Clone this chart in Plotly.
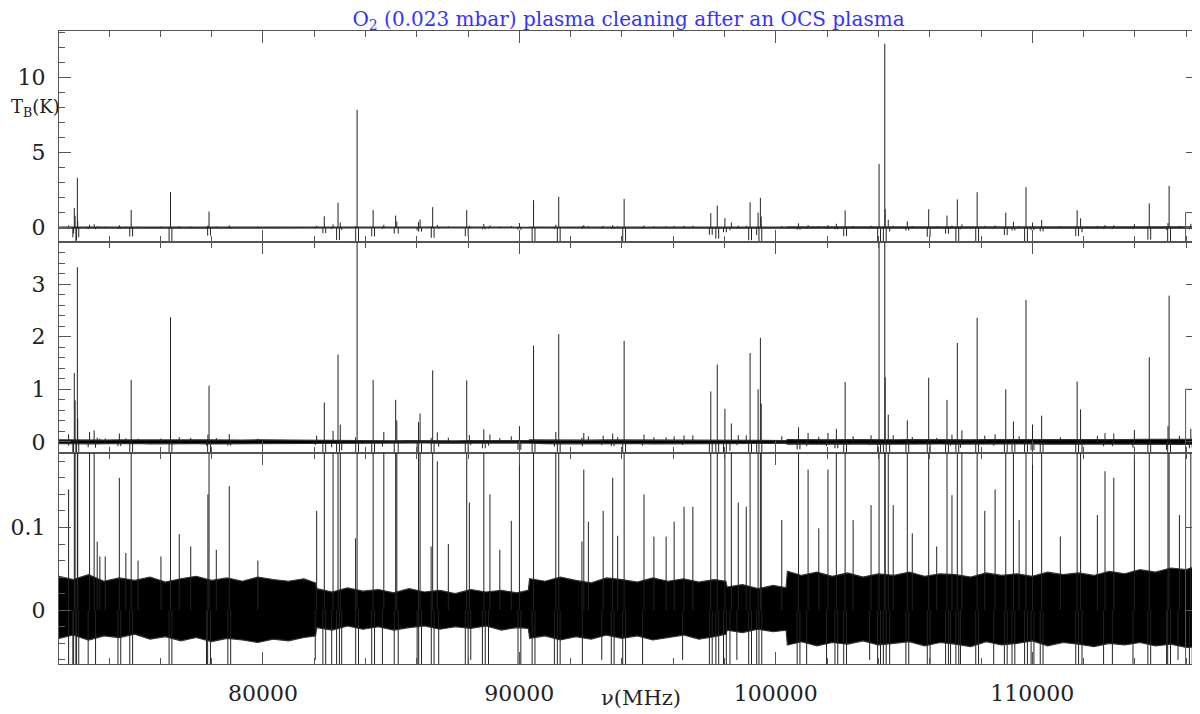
import plotly.graph_objects as go
from plotly.subplots import make_subplots

# emission lines: frequency (MHz) and peak T_B (K)
line_freq = [72424, 72647, 72677, 72766, 72780, 73242, 73420, 73540, 73644, 73852,
             74403, 74656, 74864, 75132, 76025, 76397, 76739, 77186, 77856, 77900,
             78183, 78688, 79804, 82096, 82394, 82736, 82929, 83018, 83614, 83673,
             84298, 84715, 85176, 85221, 86069, 86129, 86560, 86620, 86800, 87230,
             87947, 88050, 88614, 88852, 89238, 89685, 90002, 90553, 91420, 91535,
             92438, 92512, 92691, 93267, 93639, 93832, 94085, 94859, 95246, 95722,
             96034, 96421, 96764, 97463, 97716, 98014, 98266, 98535, 98847, 98996,
             99308, 99397, 99430, 100231, 100885, 101257, 101674, 102032, 102359, 102701,
             103013, 103713, 104025, 104248, 104263, 104383, 104576, 105126, 105320, 105959,
             106272, 106674, 106867, 107075, 107254, 107849, 108147, 108549, 108965, 109263,
             109486, 109754, 110007, 110364, 111093, 111748, 111882, 112536, 112834, 113177,
             113980, 114560, 115290, 115333, 115736, 116180]
line_peak = [0.146, 1.31, 0.79, 3.32, 0.45, 0.19, 0.22, 0.083, 0.065, 0.065,
             0.16, 0.069, 1.18, 0.060, 0.065, 2.37, 0.092, 0.077, 0.14, 1.07,
             0.073, 0.15, 0.060, 0.12, 0.75, 0.21, 1.66, 0.33, 0.087, 7.85,
             1.18, 0.19, 0.80, 0.41, 0.38, 0.54, 0.077, 1.36, 0.18, 0.080,
             1.17, 0.13, 0.24, 0.14, 0.073, 0.108, 0.30, 1.83, 0.19, 2.05,
             0.083, 0.17, 0.107, 0.12, 0.16, 0.09, 1.92, 0.14, 0.089, 0.089,
             0.107, 0.125, 0.125, 0.96, 1.47, 0.63, 0.35, 0.13, 0.125, 1.69,
             1.00, 1.98, 0.73, 0.109, 0.28, 0.17, 0.099, 0.17, 0.25, 1.14,
             0.109, 0.127, 4.24, 12.25, 1.23, 0.52, 0.127, 0.41, 0.093, 1.22,
             0.077, 0.80, 0.139, 1.88, 0.22, 2.36, 0.12, 0.146, 1.00, 0.39,
             0.109, 2.70, 0.33, 0.50, 0.089, 1.15, 0.62, 0.115, 0.168, 0.16,
             0.23, 1.61, 0.30, 2.78, 0.115, 0.25]

# negative ghosts left by the frequency switching, read below the lines
dip_freq = [72425, 72590, 72620, 72710, 72735, 72820, 73187, 73475, 74348, 74458,
            74809, 74919, 76342, 76452, 77801, 77845, 77955, 78633, 78743, 82041,
            82339, 82449, 82681, 82874, 82984, 83073, 83618, 83728, 84243, 84353,
            84660, 85121, 85276, 86014, 86074, 86184, 86565, 86675, 86855, 87892,
            88002, 88105, 88559, 88669, 88797, 89947, 90057, 90498, 90608, 91365,
            91480, 91590, 92457, 93212, 93584, 93694, 94030, 94140, 94804, 96366,
            97408, 97518, 97661, 97771, 97959, 98069, 98211, 98480, 98941, 99051,
            99253, 99342, 99452, 100830, 100940, 101202, 101977, 102304, 102414, 102646,
            102756, 103658, 103970, 104080, 104193, 104303, 104438, 105071, 105181, 105904,
            106014, 106619, 106729, 106812, 107020, 107130, 107199, 107794, 107904, 108494,
            108910, 109020, 109208, 109318, 109699, 109809, 109952, 110062, 110309, 110419,
            111693, 111803, 111937, 112779, 113122, 113925, 114505, 114615, 115235, 115278,
            115388, 115681, 116125, 116235]
dip_depth = [-0.07, -0.65, -0.40, -1.66, -0.85, -0.65, -0.10, -0.11, -0.08, -0.08,
             -0.59, -0.59, -1.18, -1.18, -0.07, -0.53, -0.53, -0.07, -0.07, -0.06,
             -0.37, -0.37, -0.10, -0.83, -0.83, -0.16, -3.9, -3.9, -0.59, -0.59,
             -0.09, -0.40, -0.40, -0.19, -0.27, -0.27, -0.68, -0.68, -0.09, -0.58,
             -0.58, -0.06, -0.12, -0.12, -0.07, -0.15, -0.15, -0.91, -0.91, -0.09,
             -1.02, -1.02, -0.08, -0.06, -0.08, -0.08, -0.96, -0.96, -0.07, -0.06,
             -0.48, -0.48, -0.73, -0.73, -0.31, -0.31, -0.17, -0.06, -0.84, -0.84,
             -0.50, -0.99, -0.99, -0.14, -0.14, -0.08, -0.08, -0.12, -0.12, -0.57,
             -0.57, -0.06, -2.1, -2.1, -6.1, -6.1, -0.26, -0.20, -0.20, -0.61,
             -0.61, -0.40, -0.40, -0.07, -0.94, -0.94, -0.11, -1.18, -1.18, -0.07,
             -0.50, -0.50, -0.19, -0.19, -1.35, -1.35, -0.16, -0.16, -0.25, -0.25,
             -0.57, -0.57, -0.31, -0.08, -0.08, -0.11, -0.80, -0.80, -0.15, -1.39,
             -1.39, -0.06, -0.12, -0.12]

# noise envelope of the baseline (K) per frequency
env_freq = [72050, 72600, 73200, 73800, 74400, 75000, 75600, 76200, 76800, 77400,
            78000, 78600, 79200, 79800, 80400, 81000, 81600, 82050, 82100, 82700,
            83300, 83900, 84500, 85100, 85700, 86300, 86900, 87500, 88100, 88700,
            89300, 89900, 90350, 90400, 91000, 91600, 92200, 92800, 93400, 94000,
            94600, 95200, 95800, 96400, 97000, 97600, 98050, 98100, 98700, 99300,
            99900, 100400, 100450, 101000, 101600, 102200, 102800, 103400, 104000, 104600,
            105200, 105800, 106400, 107000, 107600, 108200, 108800, 109400, 110000, 110600,
            111200, 111800, 112400, 113000, 113600, 114200, 114800, 115400, 116000, 116460]
env_hi = [0.041, 0.037, 0.043, 0.035, 0.039, 0.036, 0.040, 0.034, 0.038, 0.041,
          0.036, 0.039, 0.035, 0.040, 0.037, 0.035, 0.038, 0.033, 0.026, 0.022,
          0.027, 0.023, 0.025, 0.021, 0.026, 0.022, 0.024, 0.020, 0.025, 0.022,
          0.024, 0.021, 0.024, 0.038, 0.035, 0.040, 0.036, 0.033, 0.039, 0.037,
          0.034, 0.039, 0.035, 0.038, 0.034, 0.037, 0.035, 0.028, 0.031, 0.026,
          0.030, 0.027, 0.047, 0.042, 0.046, 0.041, 0.045, 0.040, 0.044, 0.042,
          0.046, 0.041, 0.044, 0.043, 0.040, 0.045, 0.042, 0.044, 0.041, 0.046,
          0.043, 0.045, 0.042, 0.047, 0.044, 0.049, 0.046, 0.051, 0.049, 0.054]
env_lo = [-0.034, -0.030, -0.036, -0.031, -0.033, -0.029, -0.035, -0.032, -0.037, -0.033,
          -0.038, -0.034, -0.036, -0.039, -0.035, -0.037, -0.033, -0.031, -0.021, -0.024,
          -0.019, -0.023, -0.020, -0.024, -0.021, -0.019, -0.023, -0.020, -0.022, -0.019,
          -0.024, -0.021, -0.022, -0.034, -0.031, -0.036, -0.032, -0.035, -0.030, -0.034,
          -0.031, -0.036, -0.033, -0.030, -0.035, -0.032, -0.029, -0.024, -0.027, -0.023,
          -0.026, -0.024, -0.042, -0.038, -0.043, -0.039, -0.041, -0.037, -0.042, -0.040,
          -0.038, -0.043, -0.039, -0.041, -0.044, -0.038, -0.042, -0.040, -0.037, -0.043,
          -0.039, -0.041, -0.044, -0.040, -0.042, -0.039, -0.043, -0.041, -0.045, -0.044]

# flat step at the upper band edge
box_freq = [115976, 115976, 116460]
box_temp = [-1.0, 1.0, 1.0]

FONT = "DejaVu Serif"
AX = "#555555"

stick_x, stick_y = [], []
for f, p in list(zip(line_freq, line_peak)) + list(zip(dip_freq, dip_depth)):
    stick_x += [f, f, None]
    stick_y += [0, p, None]

band_x = env_freq + env_freq[::-1]
band_y = env_hi + env_lo[::-1]

fig = make_subplots(rows=3, cols=1, shared_xaxes=True, vertical_spacing=0)

for row in (1, 2, 3):
    fig.add_trace(go.Scatter(x=band_x, y=band_y, fill="toself", fillcolor="black",
                             mode="lines", line=dict(color="#333333", width=1.2),
                             hoverinfo="skip", showlegend=False), row=row, col=1)
    fig.add_trace(go.Scatter(x=stick_x, y=stick_y, mode="lines",
                             line=dict(color="#222222", width=1),
                             hoverinfo="skip", showlegend=False), row=row, col=1)
    fig.add_trace(go.Scatter(x=box_freq, y=box_temp, mode="lines",
                             line=dict(color="#555555", width=1),
                             hoverinfo="skip", showlegend=False), row=row, col=1)

fig.update_xaxes(range=[72050, 116460], showgrid=False, zeroline=False, automargin=False,
                 showline=True, linecolor=AX, linewidth=1, mirror="ticks",
                 ticks="inside", ticklen=12, tickcolor=AX, tickwidth=1,
                 tick0=0, dtick=10000, tickformat="d",
                 minor=dict(ticks="inside", ticklen=6, tickcolor=AX, dtick=2000, showgrid=False),
                 tickfont=dict(family=FONT, size=22, color="#222222"),
                 ticklabelstandoff=10)

yspec = [(1, [-0.96, 13.1], 5, 1), (2, [-0.21, 3.80], 1, 0.2), (3, [-0.065, 0.190], 0.1, 0.02)]
for row, rng, major, minor in yspec:
    fig.update_yaxes(range=rng, showgrid=False, zeroline=False, automargin=False,
                     showline=True, linecolor=AX, linewidth=1, mirror="ticks",
                     ticks="inside", ticklen=12, tickcolor=AX, tickwidth=1,
                     tick0=0, dtick=major,
                     minor=dict(ticks="inside", ticklen=6, tickcolor=AX, dtick=minor, showgrid=False),
                     tickfont=dict(family=FONT, size=22, color="#222222"),
                     ticklabelstandoff=8, row=row, col=1)

fig.add_annotation(text="T<sub>B</sub>(K)", xref="paper", yref="paper", x=-50 / 1139, y=0.878,
                   xanchor="left", yanchor="middle", showarrow=False,
                   font=dict(family=FONT, size=18, color="#222222"))
fig.add_annotation(text="\u03bd(MHz)", xref="paper", yref="paper", x=0.511, y=-0.054,
                   xanchor="center", yanchor="middle", showarrow=False,
                   font=dict(family=FONT, size=21, color="#222222"))

# the page body adds an 8 px offset, so the figure is sized to fit the window
fig.update_layout(
    width=1192, height=706,
    margin=dict(l=51, r=2, t=23, b=50),
    paper_bgcolor="white", plot_bgcolor="white",
    title=dict(text="O<sub>2</sub> (0.023 mbar) plasma cleaning after an OCS plasma",
               x=0.5, xref="paper", xanchor="center", y=1 - 11 / 706, yref="container",
               yanchor="middle", font=dict(family=FONT, size=20, color="#3333ff")),
)

fig.write_html("out.html")
